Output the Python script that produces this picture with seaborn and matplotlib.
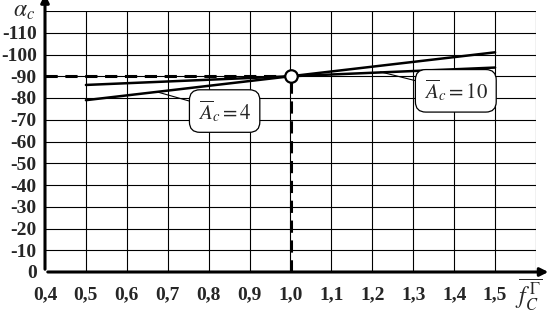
import numpy as np
import pandas as pd
import matplotlib
matplotlib.use("Agg")
import matplotlib.pyplot as plt
import seaborn as sns

# --- данные ---
f_c = [0.5, 1.0, 1.5]
alpha_A4 = [-79, -90, -101]
alpha_A10 = [-86, -90, -94]
x_ticks = [0.4, 0.5, 0.6, 0.7, 0.8, 0.9, 1.0, 1.1, 1.2, 1.3, 1.4, 1.5]
y_ticks = [0, -10, -20, -30, -40, -50, -60, -70, -80, -90, -100, -110]
point_x, point_y = 1.0, -90

df = pd.DataFrame({
    "f": f_c * 2,
    "alpha": alpha_A4 + alpha_A10,
    "A": ["4"] * 3 + ["10"] * 3,
})

sns.set_style("white")
plt.rcParams["font.family"] = ["Liberation Serif", "DejaVu Serif"]
plt.rcParams["mathtext.fontset"] = "stix"
plt.rcParams["axes.unicode_minus"] = False

fig = plt.figure(figsize=(5.53, 3.11), dpi=100)
ax = fig.add_axes([45 / 553, 1 - 272 / 311, 491 / 553, 261 / 311])

ax.set_xlim(0.4, 1.6)
ax.set_ylim(0, -120)

# сетка
for x in np.arange(0.5, 1.65, 0.1):
    ax.axvline(x, color="black", lw=0.8, zorder=1)
for y in np.arange(-10, -125, -10):
    ax.axhline(y, color="black", lw=0.8, zorder=1)

sns.lineplot(data=df, x="f", y="alpha", units="A", estimator=None,
             color="black", lw=1.8, ax=ax, zorder=3)

# пунктир к точке
ax.plot([0.4, point_x], [point_y, point_y], color="black", lw=2.2,
        ls=(0, (4, 2.5)), zorder=2)
ax.plot([point_x, point_x], [0, point_y], color="black", lw=2.2,
        ls=(0, (4, 2.5)), zorder=2)
ax.plot([point_x], [point_y], "o", ms=9, mfc="white", mec="black",
        mew=1.6, zorder=5)

ax.set_xticks(x_ticks)
ax.set_xticklabels([f"{v:.1f}".replace(".", ",") for v in x_ticks])
ax.set_yticks(y_ticks)
ax.set_yticklabels([str(v) for v in y_ticks])
ax.tick_params(axis="x", length=0, labelsize=14, pad=10)
ax.tick_params(axis="y", length=0, labelsize=14, pad=6)
for lab in ax.get_xticklabels() + ax.get_yticklabels():
    lab.set_fontweight("bold")

for s in ["top", "right", "left", "bottom"]:
    ax.spines[s].set_visible(False)

# оси со стрелками
ax.annotate("", xy=(0.4, -129), xytext=(0.4, 0), annotation_clip=False,
            arrowprops=dict(arrowstyle="-|>", color="black", lw=2.2,
                            mutation_scale=12))
ax.annotate("", xy=(1.637, 0), xytext=(0.4, 0), annotation_clip=False,
            arrowprops=dict(arrowstyle="-|>", color="black", lw=2.2,
                            mutation_scale=12))

# подписи осей
fig.text(13 / 553, 1 - 12 / 311, r"$\alpha_c$", fontsize=17, ha="left", va="center")
fig.text(529 / 553, 1 - 294 / 311, r"$\overline{f_C^{\,\Gamma}}$", fontsize=17,
         ha="center", va="center")

box = dict(boxstyle="round,pad=0.4,rounding_size=0.5", fc="white",
           ec="black", lw=0.9)
ax.annotate(r"$\overline{A}_c = \mathit{4}$", xy=(0.674, -82.8), xytext=(0.839, -74),
            fontsize=15, ha="center", va="center", bbox=box, zorder=6,
            arrowprops=dict(arrowstyle="-", color="black", lw=0.8,
                            shrinkA=0, shrinkB=0))
ax.annotate(r"$\overline{A}_c = \mathit{10}$", xy=(1.22, -92), xytext=(1.404, -83.3),
            fontsize=15, ha="center", va="center", bbox=box, zorder=6,
            arrowprops=dict(arrowstyle="-", color="black", lw=0.8,
                            shrinkA=0, shrinkB=0))

ax.set_xlabel("")
ax.set_ylabel("")
fig.savefig("out.png", dpi=100)
